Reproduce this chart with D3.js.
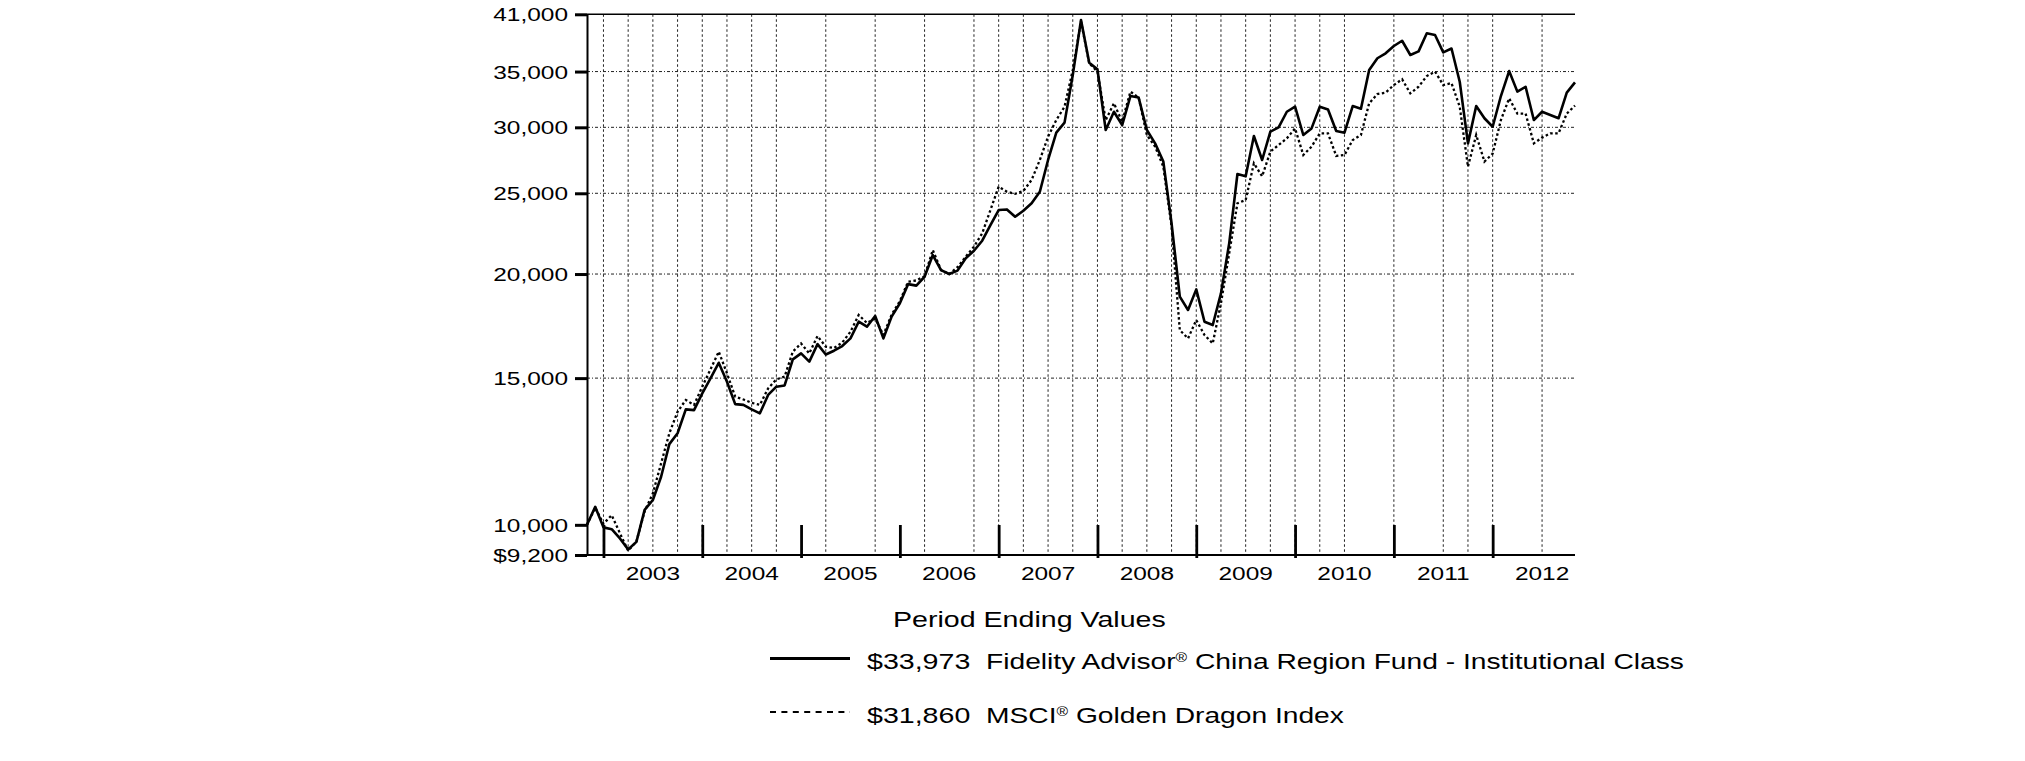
<!DOCTYPE html>
<html><head><meta charset="utf-8">
<script src="https://cdn.jsdelivr.net/npm/d3@7"></script>
<style>
body{margin:0;background:#fff}
svg{display:block}
text{font-family:"Liberation Sans",Arial,sans-serif;fill:#000}
</style>
</head><body>
<svg id="c" width="2025" height="761"></svg>
<script>
// ---------- data ----------
const firstMonth = [2002, 9];   // Oct 2002 (UTC month index)
const lastMonth = [2012, 9];    // Oct 2012
const fundValues = [
10000,10510,9930,9880,9630,9340,9540,10420,10710,11420,12500,12880,
13760,13730,14380,14990,15650,14850,13960,13930,13760,13610,14320,14650,
14700,15800,16060,15700,16480,16010,16180,16390,16740,17530,17290,17810,
16740,17780,18450,19450,19370,19850,21080,20220,20000,20190,20890,21330,
21930,22900,23870,23910,23430,23820,24320,25110,27410,29560,30390,34660,
40360,35860,35210,29780,31320,30190,32710,32570,29780,28700,27290,23010,
18790,18110,19170,17530,17370,18960,21770,26370,26200,29290,27410,29640,
30000,31320,31760,29370,29910,31760,31520,29700,29560,31820,31580,35150,
36310,36810,37560,38110,36640,37010,38900,38720,36910,37300,34030,28700,
31820,30760,30050,32710,35050,33110,33560,30610,31320,31040,30760,33020,
33973];
const indexValues = [
10000,10480,10030,10270,9770,9310,9550,10380,10910,11850,12880,13670,
14120,13930,14650,15370,16140,15200,14250,14140,14010,13930,14580,14950,
15060,16140,16510,16060,16850,16360,16300,16550,17050,17860,17470,17680,
16900,17880,18560,19580,19650,19880,21370,20220,20000,20380,20980,21570,
22380,23870,25460,25110,24960,25160,25940,27410,29240,30610,31760,35150,
40200,35800,35000,30600,32060,30470,33110,32570,29370,28440,26910,22800,
17130,16740,17610,16900,16510,18450,21180,24320,24540,27160,26200,28050,
28570,29100,29910,27790,28440,29500,29500,27720,27790,28960,29370,32060,
32890,33020,33720,34260,32950,33560,34570,35000,33720,33900,31760,26910,
29370,27290,27900,30610,32500,31160,31160,28700,29160,29500,29500,31160,
31860];
const yTickValues = [9200,10000,15000,20000,25000,30000,35000,41000];
const yTickLabels = ["$9,200","10,000","15,000","20,000","25,000","30,000","35,000","41,000"];
const hGridValues = [15000,20000,25000,30000,35000];
const yearTickMonths = ["2002-12","2003-12","2004-12","2005-12","2006-12","2007-12","2008-12","2009-12","2010-12","2011-12"];
const yearLabels = ["2003","2004","2005","2006","2007","2008","2009","2010","2011","2012"];
const yearLabelMonths = ["2003-06","2004-06","2005-06","2006-06","2007-06","2008-06","2009-06","2010-06","2011-06","2012-06"];
const gridMonths = ["2002-12","2003-03","2003-06","2003-09","2003-12","2004-03","2004-06","2004-09",
"2005-03","2005-09","2006-03","2006-09","2006-12","2007-03","2007-06","2007-09","2007-12",
"2008-03","2008-06","2008-09","2008-12","2009-03","2009-06","2009-09","2009-12","2010-03","2010-06",
"2010-12","2011-06","2011-09","2011-12","2012-06"];
const legendTitle = "Period Ending Values";
const legendAmounts = ["$33,973","$31,860"];
const legendNames = [["Fidelity Advisor","®"," China Region Fund - Institutional Class"],["MSCI","®"," Golden Dragon Index"]];

// ---------- layout ----------
const L = 587, R = 1575, T = 14.3, B = 555;
const SX = 1.33; // horizontal stretch of the lettering
const fmt = d3.utcFormat("%Y-%m");
const months = d3.utcMonths(new Date(Date.UTC(firstMonth[0], firstMonth[1], 1)),
                            new Date(Date.UTC(lastMonth[0], lastMonth[1] + 1, 1))).map(fmt);

const svg = d3.select("#c");
const x = d3.scalePoint().domain(months).range([L, R]);
const y = d3.scaleLog().domain([9200, 41000]).range([B, T]);

// grid
const grid = svg.append("g");
grid.selectAll("line.v").data(gridMonths).join("line")
  .attr("x1", d => x(d)).attr("x2", d => x(d)).attr("y1", T).attr("y2", B)
  .attr("stroke", "#222").attr("stroke-width", 1).attr("stroke-dasharray", "2.5,2.5");
grid.selectAll("line.h").data(hGridValues).join("line")
  .attr("x1", L).attr("x2", R).attr("y1", d => y(d)).attr("y2", d => y(d))
  .attr("stroke", "#222").attr("stroke-width", 1).attr("stroke-dasharray", "3,2,1,2");

// top frame line
svg.append("line").attr("x1", L).attr("x2", R).attr("y1", T).attr("y2", T)
  .attr("stroke", "#000").attr("stroke-width", 1.5);

// y axis
const ya = svg.append("g").attr("transform", `translate(${L},0)`)
  .call(d3.axisLeft(y).tickValues(yTickValues).tickFormat((d, i) => yTickLabels[i]).tickSize(12).tickSizeOuter(0));
ya.select(".domain").attr("stroke-width", 2);
ya.selectAll(".tick line").attr("stroke-width", 3);
ya.selectAll(".tick text").attr("x", null).attr("dy", null)
  .attr("transform", "translate(-19,6.6) scale(" + SX + ",1)")
  .attr("font-size", 18.4).attr("font-family", '"Liberation Sans",Arial,sans-serif').attr("fill", "#000");

// x axis
const xa = svg.append("g").attr("transform", `translate(0,${B})`)
  .call(d3.axisBottom(x).tickValues(yearTickMonths).tickFormat("").tickSize(-30).tickSizeOuter(0));
xa.select(".domain").attr("stroke-width", 2).attr("d", `M${L},0H${R}`);
xa.selectAll(".tick line").attr("y1", 3).attr("y2", -30).attr("stroke-width", 2.8);
svg.append("g").selectAll("text").data(yearLabels).join("text")
  .attr("transform", (d, i) => `translate(${x(yearLabelMonths[i])},580) scale(${SX},1)`)
  .attr("text-anchor", "middle").attr("font-size", 18.4).text(d => d);

// series
const line = d3.line().x((d, i) => x(months[i])).y(d => y(d));
svg.append("path").datum(indexValues).attr("d", line).attr("fill", "none")
  .attr("stroke", "#000").attr("stroke-width", 2.3).attr("stroke-dasharray", "2.5,2.5");
svg.append("path").datum(fundValues).attr("d", line).attr("fill", "none")
  .attr("stroke", "#000").attr("stroke-width", 2.6).attr("stroke-linejoin", "round");

// legend
const lg = svg.append("g");
lg.append("text").attr("transform", `translate(893,627) scale(${SX},1)`).attr("font-size", 21.5).text(legendTitle);
const rowY = [669, 723];
const lineY = [658.5, 712];
const dashes = [null, "6,5.4"];
const widths = [3, 2];
[0, 1].forEach(i => {
  lg.append("line").attr("x1", 770).attr("x2", 850).attr("y1", lineY[i]).attr("y2", lineY[i])
    .attr("stroke", "#000").attr("stroke-width", widths[i]).attr("stroke-dasharray", dashes[i]);
  lg.append("text").attr("transform", `translate(867,${rowY[i]}) scale(${SX},1)`)
    .attr("font-size", 21.5).text(legendAmounts[i]);
  const t = lg.append("text").attr("transform", `translate(986,${rowY[i]}) scale(1.312,1)`)
    .attr("font-size", 21.5);
  t.append("tspan").text(legendNames[i][0]);
  t.append("tspan").attr("font-size", 12).attr("dy", -7).text(legendNames[i][1]);
  t.append("tspan").attr("dy", 7).text(legendNames[i][2]);
});
</script>
</body></html>
